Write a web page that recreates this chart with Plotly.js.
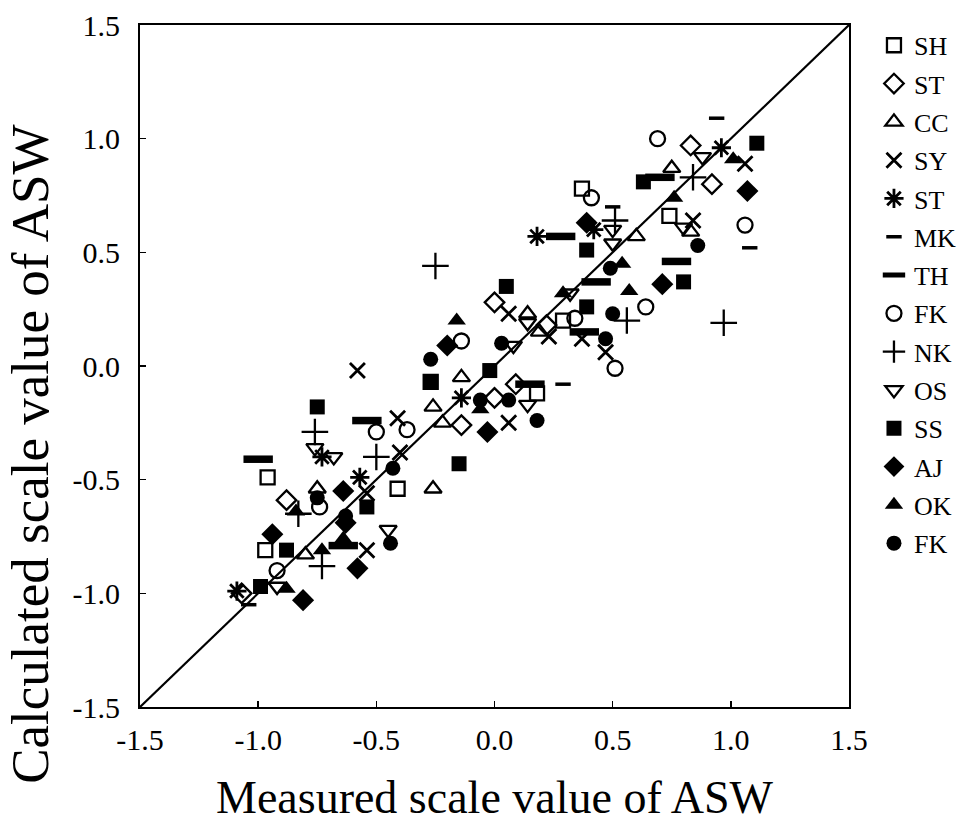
<!DOCTYPE html>
<html>
<head>
<meta charset="utf-8">
<script src="https://cdn.plot.ly/plotly-3.0.1.min.js"></script>
<style>
  html, body { margin: 0; padding: 0; background: #fff; }
  #chart { width: 970px; height: 840px; }
</style>
</head>
<body>
<div id="chart"></div>
<script>
// Measured (x) vs calculated (y) scale values of ASW, one array pair per group
const shX = [-0.96, -0.97, -0.41, -0.27, 0.18, 0.37, 0.74, 0.29];
const shY = [-0.49, -0.81, -0.54, -0.07, -0.12, 0.78, 0.66, 0.20];

const stdX = [-1.07, -0.88, 0.00, 0.09, 0.00, -0.14, 0.22, 0.83, 0.92];
const stdY = [-1.00, -0.59, 0.28, -0.08, -0.14, -0.26, 0.18, 0.97, 0.80];

const ccX = [-0.80, -0.75, -0.26, -0.22, -0.14, 0.14, 0.19, 0.60, 0.75, 0.83, -0.26];
const ccY = [-0.83, -0.54, -0.18, -0.25, -0.05, 0.23, 0.15, 0.57, 0.87, 0.59, -0.54];

const syX = [-0.58, -0.41, -0.40, -0.54, -0.54, 0.06, 0.23, 0.06, 0.47, 0.84, 1.06, 0.37];
const syY = [-0.02, -0.23, -0.38, -0.56, -0.81, 0.23, 0.13, -0.25, 0.06, 0.64, 0.89, 0.12];

const staX = [-1.09, -0.73, -0.57, -0.14, 0.18, 0.96, 0.42];
const staY = [-0.99, -0.40, -0.49, -0.14, 0.57, 0.96, 0.60];

const mkX = [-1.04, 0.29, 0.50, 0.94, 1.08];
const mkY = [-1.05, -0.08, 0.70, 1.09, 0.52];

const thX = [-1.00, -0.54, -0.64, 0.15, 0.28, 0.43, 0.38, 0.77, 0.70];
const thY = [-0.41, -0.24, -0.79, -0.08, 0.57, 0.37, 0.15, 0.46, 0.83];

const fkoX = [-0.50, -0.37, -0.74, -0.92, -0.14, 0.41, 0.69, 1.06, 0.64, 0.51, 0.34];
const fkoY = [-0.29, -0.28, -0.62, -0.90, 0.11, 0.74, 1.00, 0.62, 0.26, -0.01, 0.21];

const nkX = [-0.76, -0.50, -0.83, -0.73, -0.25, 0.51, 0.56, 0.84, 0.97];
const nkY = [-0.29, -0.40, -0.65, -0.88, 0.44, 0.64, 0.20, 0.83, 0.19];

const osX = [-0.76, -0.68, -0.45, -0.92, 0.14, 0.08, 0.14, 0.50, 0.50, 0.32, 0.80, 0.88];
const osY = [-0.36, -0.40, -0.72, -0.97, 0.19, 0.09, -0.17, 0.60, 0.54, 0.32, 0.61, 0.92];

const ssX = [-0.99, -0.88, -0.75, -0.54, -0.27, -0.02, 0.05, 0.39, 0.39, 0.63, 0.80, 1.11, -0.15];
const ssY = [-0.97, -0.81, -0.18, -0.62, -0.07, -0.02, 0.35, 0.51, 0.26, 0.81, 0.37, 0.98, -0.43];

const ajX = [-0.94, -0.81, -0.64, -0.63, -0.58, -0.20, -0.03, 0.39, 0.71, 1.07];
const ajY = [-0.74, -1.03, -0.55, -0.69, -0.89, 0.09, -0.29, 0.63, 0.36, 0.77];

const okX = [-0.88, -0.84, -0.73, -0.64, -0.16, -0.06, 0.29, 0.54, 0.57, 0.76, 1.01];
const okY = [-0.98, -0.64, -0.81, -0.76, 0.20, -0.19, 0.32, 0.45, 0.33, 0.74, 0.91];

const fkfX = [-0.75, -0.63, -0.43, -0.44, -0.27, 0.03, -0.06, 0.06, 0.18, 0.49, 0.50, 0.47, 0.86];
const fkfY = [-0.58, -0.66, -0.45, -0.78, 0.03, 0.10, -0.15, -0.15, -0.24, 0.43, 0.23, 0.12, 0.53];

const tickVals = [-1.5, -1.0, -0.5, 0.0, 0.5, 1.0, 1.5];
const tickText = ['-1.5', '-1.0', '-0.5', '0.0', '0.5', '1.0', '1.5'];

const xTitle = 'Measured scale value of ASW';
const yTitle = 'Calculated scale value of ASW';

const serif = 'Liberation Serif, Times New Roman, serif';

function group(name, xs, ys, symbol, size, lineWidth) {
  return {
    type: 'scatter', mode: 'markers', name: name, x: xs, y: ys,
    legendgroup: name + symbol,
    marker: {
      symbol: symbol, size: size, color: '#000',
      line: { color: '#000', width: lineWidth }
    },
    cliponaxis: false
  };
}

const traces = [
  // identity line
  { type: 'scatter', mode: 'lines', x: [-1.5, 1.5], y: [-1.5, 1.5],
    line: { color: '#000', width: 2.2 }, showlegend: false, hoverinfo: 'skip' },
  group('SH', shX, shY, 'square-open', 14, 2.3),
  group('ST', stdX, stdY, 'diamond-open', 15, 2.3),
  group('CC', ccX, ccY, 'triangle-up-open', 15, 2.3),
  group('SY', syX, syY, 'x-thin-open', 15, 2.8),
  group('ST', staX, staY, 'asterisk-open', 16, 2.8),
  group('MK', mkX, mkY, 'line-ew-open', 11, 3.5),
  group('TH', thX, thY, 'line-ew-open', 21, 7.5),
  group('FK', fkoX, fkoY, 'circle-open', 15, 2.3),
  group('NK', nkX, nkY, 'cross-thin-open', 19, 2.3),
  group('OS', osX, osY, 'triangle-down-open', 15, 2.3),
  group('SS', ssX, ssY, 'square', 15, 0),
  group('AJ', ajX, ajY, 'diamond', 17, 0),
  group('OK', okX, okY, 'triangle-up', 16, 0),
  group('FK', fkfX, fkfY, 'circle', 15, 0)
];

const axisCommon = {
  range: [-1.5, 1.5],
  tickvals: tickVals, ticktext: tickText,
  ticks: 'inside', ticklen: 6, tickwidth: 1.5, tickcolor: '#000',
  showline: true, linecolor: '#000', linewidth: 2, mirror: true,
  showgrid: false, zeroline: false,
  tickfont: { family: serif, size: 30, color: '#000' },
  fixedrange: true
};

const layout = {
  width: 970, height: 840,
  margin: { l: 140, r: 121, t: 25, b: 133 },
  paper_bgcolor: '#fff', plot_bgcolor: '#fff',
  showlegend: true,
  legend: {
    xref: 'container', yref: 'container',
    x: 0.901, xanchor: 'left', y: 0.974, yanchor: 'top',
    maxheight: 800,
    font: { family: serif, size: 26, color: '#000' },
    traceorder: 'grouped', tracegroupgap: 1.5,
    itemwidth: 30, bgcolor: 'rgba(0,0,0,0)'
  },
  xaxis: Object.assign({}, axisCommon, { ticklabelstandoff: 5 }),
  yaxis: Object.assign({}, axisCommon, { ticklabelstandoff: 12 }),
  annotations: [
    { text: xTitle, xref: 'paper', yref: 'paper', x: 0.5, y: -0.132,
      xanchor: 'center', yanchor: 'middle', showarrow: false,
      font: { family: serif, size: 46, color: '#000' } },
    { text: yTitle, xref: 'paper', yref: 'paper', x: -0.155, y: 0.37,
      xanchor: 'center', yanchor: 'middle', showarrow: false, textangle: -90,
      font: { family: serif, size: 53, color: '#000' } }
  ]
};

Plotly.newPlot('chart', traces, layout, { staticPlot: true });
</script>
</body>
</html>
